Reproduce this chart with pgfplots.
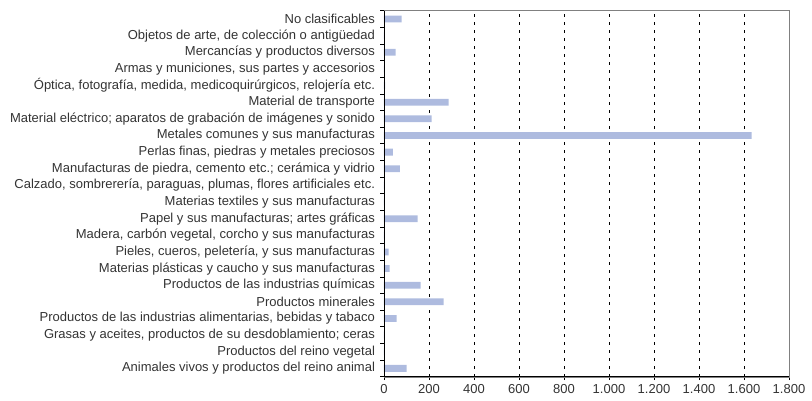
\documentclass[border=0pt]{standalone}
\usepackage{pgfplots}
\pgfplotsset{compat=1.18}
\usepackage{fontspec}
\setmainfont{Liberation Sans}
\definecolor{barblue}{HTML}{AEBBDF}
\definecolor{txt}{HTML}{333333}
\begin{document}
\begin{tikzpicture}
\begin{axis}[
    at={(0,0)}, anchor=south west,
    scale only axis,
    width=405pt, height=366pt,
    xbar, bar width=6.8pt,
    xmin=0, xmax=1800,
    ymin=-0.5, ymax=21.5,
    xtick={0,200,...,1800},
    ytick={0,...,21},
    minor ytick={-0.5,0.5,...,21.5},
    yticklabels={
        Animales vivos y productos del reino animal,
        Productos del reino vegetal,
        {Grasas y aceites, productos de su desdoblamiento; ceras},
        {Productos de las industrias alimentarias, bebidas y tabaco},
        Productos minerales,
        Productos de las industrias químicas,
        Materias plásticas y caucho y sus manufacturas,
        {Pieles, cueros, peletería, y sus manufacturas},
        {Madera, carbón vegetal, corcho y sus manufacturas},
        Papel y sus manufacturas; artes gráficas,
        Materias textiles y sus manufacturas,
        {Calzado, sombrerería, paraguas, plumas, flores artificiales etc.},
        {Manufacturas de piedra, cemento etc.; cerámica y vidrio},
        {Perlas finas, piedras y metales preciosos},
        Metales comunes y sus manufacturas,
        Material eléctrico; aparatos de grabación de imágenes y sonido,
        Material de transporte,
        {Óptica, fotografía, medida, medicoquirúrgicos, relojería etc.},
        {Armas y municiones, sus partes y accesorios},
        Mercancías y productos diversos,
        {Objetos de arte, de colección o antigüedad},
        No clasificables},
    tick align=outside,
    major tick length=3.5pt,
    minor tick length=3.5pt,
    major y tick style={draw=none},
    tick style={black, line width=0.6pt},
    xtick pos=bottom, ytick pos=left,
    xmajorgrids,
    grid style={black, line width=0.6pt, dash pattern=on 2.5pt off 5.5pt},
    axis line style={gray},
    tick label style={text=txt, font=\fontsize{13}{14}\selectfont},
    yticklabel style={xshift=-2pt},
    xticklabel style={yshift=-1pt},
    /pgf/number format/.cd, 1000 sep={.}, assume math mode=true,
]
\addplot[fill=barblue, draw=none] coordinates {
    (101,0) (0,1) (0,2) (56,3) (265,4) (163,5) (25,6) (21,7) (0,8) (150,9)
    (3,10) (0,11) (71,12) (39,13) (1634,14) (212,15) (287,16) (5,17) (0,18)
    (52,19) (0,20) (78,21)
};
\draw[black, line width=0.8pt] (axis cs:0,-0.5) -- (axis cs:0,21.5);
\draw[black, line width=0.8pt] (axis cs:0,-0.5) -- (axis cs:1800,-0.5);
\draw[black, line width=0.8pt] (axis cs:1800,-0.5) -- (axis cs:1800,21.5);
\end{axis}
\path (-384pt,-23.3pt) rectangle (428pt,376.7pt);
\end{tikzpicture}
\end{document}
